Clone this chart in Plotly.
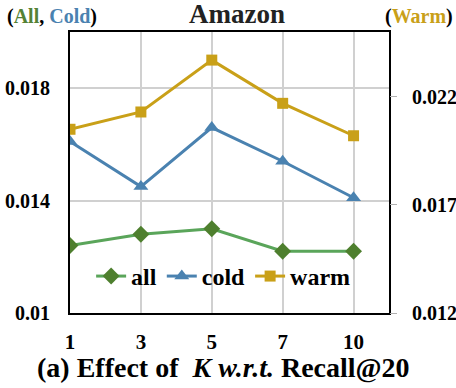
import plotly.graph_objects as go

# K values on the x axis
k_labels = ["1", "3", "5", "7", "10"]

# Recall@20 values (all, cold on left axis; warm on right axis)
recall_all = [0.0124, 0.0128, 0.0130, 0.0122, 0.0122]
recall_cold = [0.0161, 0.0145, 0.0166, 0.0154, 0.0141]
recall_warm = [0.0205, 0.0213, 0.0237, 0.0217, 0.0202]

left_ticks = [0.01, 0.014, 0.018]
left_text = ["0.01", "0.014", "0.018"]
right_ticks = [0.012, 0.017, 0.022]
right_text = ["0.012", "0.017", "0.022"]

GREEN_LINE = "#5AA55A"
GREEN_MARK = "#4E7F2E"
GREEN_TEXT = "#548235"
BLUE = "#4A82B0"
GOLD = "#C9A018"
FONT = "Liberation Serif"

fig = go.Figure()

fig.add_trace(go.Scatter(
    x=k_labels, y=recall_all, name="all", mode="lines+markers",
    line=dict(color=GREEN_LINE, width=3),
    marker=dict(symbol="diamond", size=13, color=GREEN_MARK),
))
fig.add_trace(go.Scatter(
    x=k_labels, y=recall_cold, name="cold", mode="lines+markers",
    line=dict(color=BLUE, width=3),
    marker=dict(symbol="triangle-up", size=13, color=BLUE),
))
fig.add_trace(go.Scatter(
    x=k_labels, y=recall_warm, name="warm", mode="lines+markers",
    line=dict(color=GOLD, width=3),
    marker=dict(symbol="square", size=11, color=GOLD),
    yaxis="y2",
))

fig.update_layout(
    width=456, height=388,
    margin=dict(l=70, r=67, t=32, b=75),
    paper_bgcolor="white", plot_bgcolor="white",
    font=dict(family=FONT, color="black"),
    xaxis=dict(
        type="category", range=[0, 4.5], automargin=False,
        showgrid=True, gridcolor="#D0D0D0", gridwidth=1.5,
        showline=True, linecolor="black", linewidth=2, mirror=True,
        ticks="", ticklabelstandoff=9,
        tickfont=dict(size=21, family=FONT, weight="bold"),
        zeroline=False,
    ),
    yaxis=dict(
        range=[0.01, 0.02], tickvals=left_ticks, ticktext=left_text,
        automargin=False,
        showgrid=True, gridcolor="#D0D0D0", gridwidth=1.5,
        showline=True, linecolor="black", linewidth=2, mirror=True,
        ticks="", ticklabelstandoff=14,
        tickfont=dict(size=20, family=FONT, weight="bold"),
        zeroline=False,
    ),
    yaxis2=dict(
        overlaying="y", side="right", automargin=False,
        range=[0.012, 0.025], tickvals=right_ticks, ticktext=right_text,
        showgrid=False, ticks="outside", ticklen=7, tickcolor="#B0B0B0",
        ticklabelstandoff=11,
        tickfont=dict(size=20, family=FONT, weight="bold"),
        zeroline=False,
    ),
    legend=dict(
        orientation="h", x=0.48, xanchor="center", y=0.13, yanchor="middle",
        bgcolor="rgba(0,0,0,0)",
        font=dict(size=24, family=FONT, weight="bold"),
        itemwidth=30,
    ),
    showlegend=True,
)

# chart title and axis-group labels
fig.add_annotation(
    text="<b>Amazon</b>", xref="paper", yref="paper",
    x=(237 - 70) / 319, y=1, yshift=18, xanchor="center", yanchor="middle",
    showarrow=False, font=dict(size=27, family=FONT, color="#222222"),
)
fig.add_annotation(
    text=f"<b>(<span style='color:{GREEN_TEXT}'>All</span>, "
         f"<span style='color:{BLUE}'>Cold</span>)</b>",
    xref="paper", yref="paper", x=(5 - 70) / 319, y=1, yshift=16,
    xanchor="left", yanchor="middle", showarrow=False,
    font=dict(size=20, family=FONT, color="black"),
)
fig.add_annotation(
    text=f"<b>(<span style='color:{GOLD}'>Warm</span>)</b>",
    xref="paper", yref="paper", x=(455 - 70) / 319, y=1, yshift=16,
    xanchor="right", yanchor="middle", showarrow=False,
    font=dict(size=20, family=FONT, color="black"),
)
# caption below the chart
fig.add_annotation(
    text="<b>(a) Effect of  <i>K w.r.t.</i> Recall@20</b>",
    xref="paper", yref="paper", x=(223 - 70) / 319, y=0, yshift=-54,
    xanchor="center", yanchor="middle", showarrow=False,
    font=dict(size=28, family=FONT, color="black"),
)

# drop the default page margin so the figure sits at the window corner
fig.write_html("out.html", config={"displayModeBar": False},
               post_script="document.body.style.margin='0';")
